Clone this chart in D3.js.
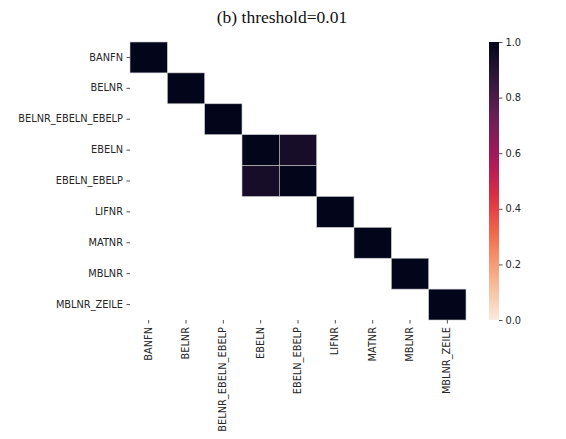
<!DOCTYPE html>
<html><head><meta charset="utf-8">
<script src="https://cdn.jsdelivr.net/npm/d3@7"></script>
<style>body{margin:0;background:#fff}svg{display:block}</style>
</head><body><div id="chart"></div>
<script>
const title = "(b) threshold=0.01";
const categories = ["BANFN","BELNR","BELNR_EBELN_EBELP","EBELN","EBELN_EBELP","LIFNR","MATNR","MBLNR","MBLNR_ZEILE"];
// correlation matrix; null = masked (below threshold)
const matrix = [
  [1.0,null,null,null,null,null,null,null,null],
  [null,1.0,null,null,null,null,null,null,null],
  [null,null,1.0,null,null,null,null,null,null],
  [null,null,null,1.0,0.94,null,null,null,null],
  [null,null,null,0.94,1.0,null,null,null,null],
  [null,null,null,null,null,1.0,null,null,null],
  [null,null,null,null,null,null,1.0,null,null],
  [null,null,null,null,null,null,null,1.0,null],
  [null,null,null,null,null,null,null,null,1.0]
];
const colorbarTicks = [0.0,0.2,0.4,0.6,0.8,1.0];
const rocketStops = ["#03051a","#35193e","#701f57","#ad1759","#e13342","#f37651","#f6b48f","#faebdd"];

(function(){
const W=566,H=439;
const svg=d3.select("#chart").append("svg").attr("width",W).attr("height",H);
const mLeft=130,mRight=466,mTop=42,mBottom=320;

const x=d3.scaleBand().domain(categories).range([mLeft,mRight]);
const y=d3.scaleBand().domain(categories).range([mTop,mBottom]);
const rocket=d3.scaleLinear().domain(d3.range(rocketStops.length).map(i=>i/(rocketStops.length-1))).range(rocketStops).interpolate(d3.interpolateRgb);
const color=v=>rocket(1-v);

const defs=svg.append("defs");
defs.append("clipPath").attr("id","crop").append("rect").attr("x",16).attr("y",0).attr("width",W).attr("height",H);

const cells=[];
matrix.forEach((row,i)=>row.forEach((v,j)=>{if(v!==null)cells.push({r:categories[i],c:categories[j],v});}));
svg.append("g").selectAll("rect").data(cells).join("rect")
  .attr("x",d=>x(d.c)).attr("y",d=>y(d.r)).attr("width",x.bandwidth()).attr("height",y.bandwidth())
  .attr("fill",d=>color(d.v)).attr("stroke","#c8c8cc").attr("stroke-width",0.6);

const font="'DejaVu Sans', sans-serif";
const fs=9.8, ink="#262626";
const yWrap=svg.append("g").attr("clip-path","url(#crop)");
const yAxis=yWrap.append("g").attr("transform",`translate(${mLeft},0)`).call(d3.axisLeft(y).tickSize(3.5).tickPadding(3.5));
yAxis.select(".domain").remove();
yAxis.selectAll("text").attr("font-family",font).attr("font-size",fs).attr("fill",ink);
yAxis.selectAll("line").attr("stroke",ink).attr("stroke-width",0.8);

const xAxis=svg.append("g").attr("transform",`translate(0,${mBottom})`).call(d3.axisBottom(x).tickSize(3.5).tickPadding(3.5));
xAxis.select(".domain").remove();
xAxis.selectAll("text").attr("font-family",font).attr("font-size",fs).attr("fill",ink)
  .attr("transform","rotate(-90)").attr("text-anchor","end").attr("dx","-7").attr("dy","0.32em").attr("x",0).attr("y",0);
xAxis.selectAll("line").attr("stroke",ink).attr("stroke-width",0.8);

// colorbar
const cbx=489,cbw=10;
const cy=d3.scaleLinear().domain([0,1]).range([mBottom,mTop]);
const grad=defs.append("linearGradient").attr("id","cb").attr("x1",0).attr("y1",1).attr("x2",0).attr("y2",0);
d3.range(0,1.0001,0.05).forEach(t=>grad.append("stop").attr("offset",t).attr("stop-color",color(t)));
svg.append("rect").attr("x",cbx).attr("y",mTop).attr("width",cbw).attr("height",mBottom-mTop).attr("fill","url(#cb)");
const cAxis=svg.append("g").attr("transform",`translate(${cbx+cbw},0)`).call(d3.axisRight(cy).tickValues(colorbarTicks).tickFormat(d3.format(".1f")).tickSize(3.5).tickPadding(3));
cAxis.select(".domain").remove();
cAxis.selectAll("text").attr("font-family",font).attr("font-size",fs).attr("fill",ink);
cAxis.selectAll("line").attr("stroke",ink).attr("stroke-width",0.8);

svg.append("text").attr("x",282).attr("y",23).attr("text-anchor","middle")
  .attr("font-family","'Liberation Serif', 'Times New Roman', serif").attr("font-size",17.5).attr("fill","#111").text(title);
})();
</script></body></html>
